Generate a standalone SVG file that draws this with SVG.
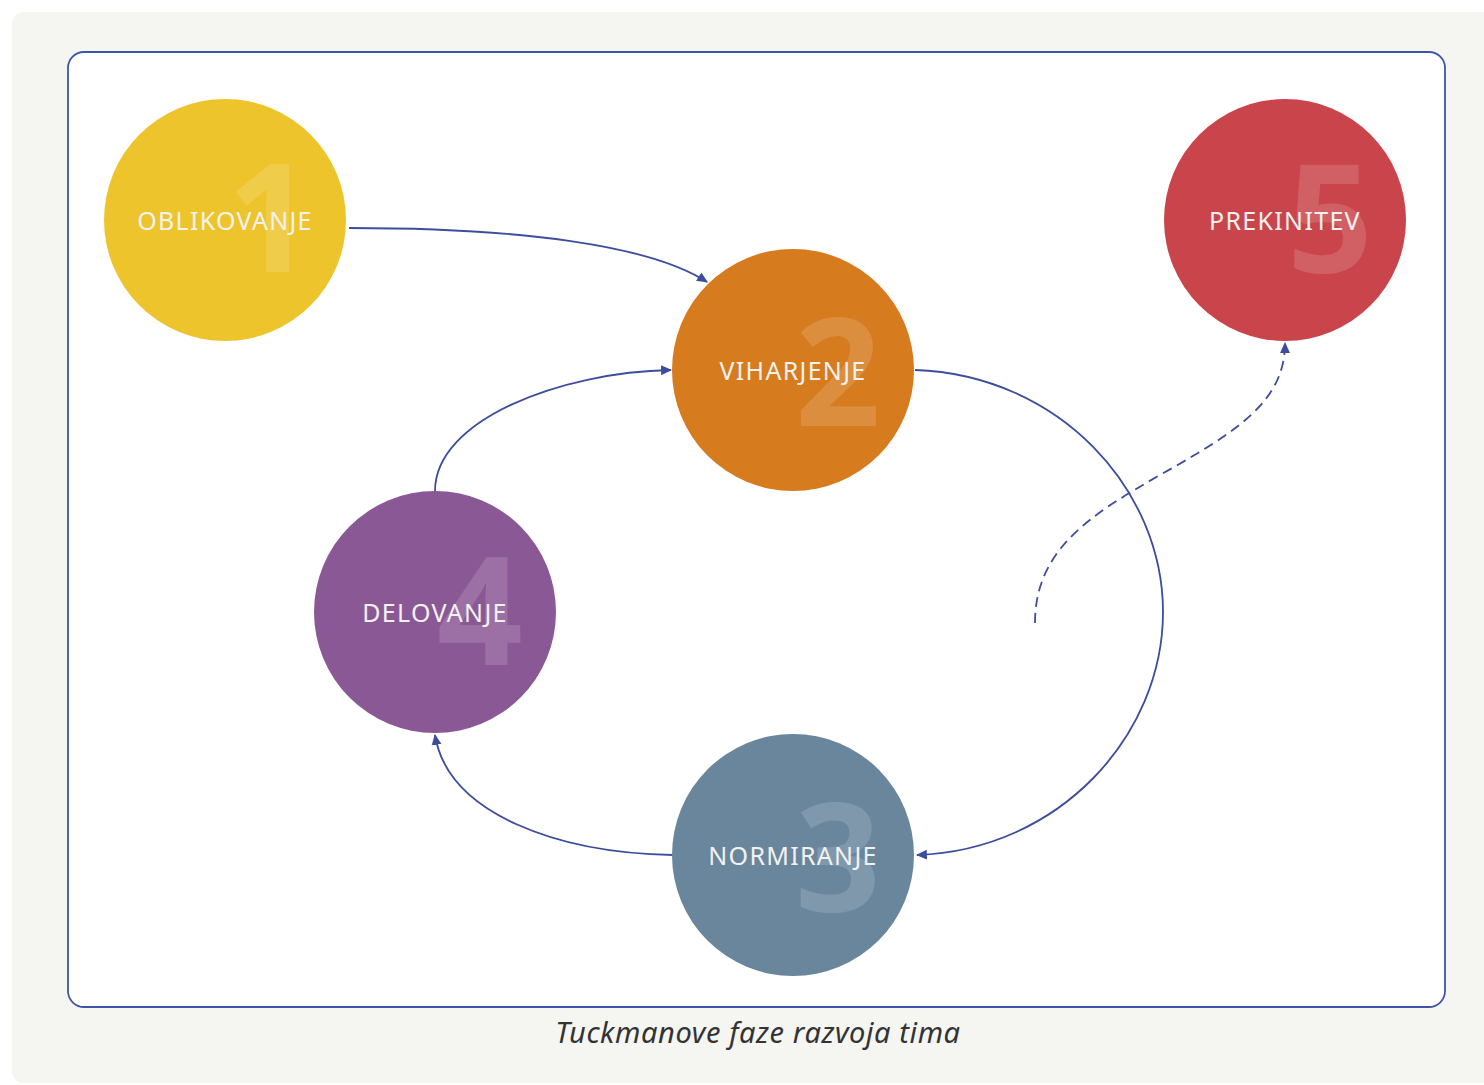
<svg xmlns="http://www.w3.org/2000/svg" width="1484" height="1085" viewBox="0 0 1484 1085">
  <defs>
    <marker id="arrow" viewBox="0 0 10 10" refX="9" refY="5" markerWidth="11" markerHeight="11" markerUnits="userSpaceOnUse" orient="auto">
      <path d="M0,0.5 L10,5 L0,9.5 Z" fill="#3d4d9e"/>
    </marker>
    <style>
      .edge { fill: none; stroke: #3d4d9e; stroke-width: 1.8; }
      .dashed { stroke-dasharray: 10 6; }
      .label { font-family: "Noto Sans", "Liberation Sans", sans-serif; font-size: 25px; fill: #f2f2f0; text-anchor: middle; letter-spacing: 1.3px; }
      .num { font-family: "Noto Sans", "Liberation Sans", sans-serif; font-size: 150px; font-weight: 700; fill: #ffffff; fill-opacity: 0.15; text-anchor: middle; }
      .caption { font-family: "Noto Sans", "Liberation Sans", sans-serif; font-size: 29px; font-style: italic; fill: #333333; text-anchor: middle; letter-spacing: 0.6px; }
    </style>
  </defs>

  <!-- page background and panel -->
  <rect x="0" y="0" width="1484" height="1085" fill="#ffffff"/>
  <rect x="12" y="12" width="1490" height="1071" rx="12" fill="#f5f5f1"/>
  <rect x="68" y="52" width="1377" height="955" rx="16" fill="#ffffff" stroke="#3f55a8" stroke-width="1.8"/>

  <!-- connectors -->
  <g id="connectors">
    <path class="edge" d="M349,228 C520,228 650,245 707,282" marker-end="url(#arrow)"/>
    <path class="edge" d="M915,370 C1060,375 1163,490 1163,612 C1163,735 1060,850 917,855" marker-end="url(#arrow)"/>
    <path class="edge" d="M673,855 C560,853 448,815 435,735" marker-end="url(#arrow)"/>
    <path class="edge" d="M435,491 C435,420 560,372 671,370" marker-end="url(#arrow)"/>
    <path class="edge dashed" d="M1035,623 C1035,550 1090,515 1160,475 C1240,430 1285,400 1285,343" marker-end="url(#arrow)"/>
  </g>

  <!-- stage nodes -->
  <g id="node-oblikovanje">
    <circle cx="225" cy="220" r="121" fill="#eec42c"/>
    <text class="num" x="270" y="272">1</text>
    <text class="label" x="225" y="230">OBLIKOVANJE</text>
  </g>
  <g id="node-viharjenje">
    <circle cx="793" cy="370" r="121" fill="#d67b1e"/>
    <text class="num" x="838" y="426">2</text>
    <text class="label" x="793" y="380">VIHARJENJE</text>
  </g>
  <g id="node-normiranje">
    <circle cx="793" cy="855" r="121" fill="#6a869d"/>
    <text class="num" x="838" y="911">3</text>
    <text class="label" x="793" y="865">NORMIRANJE</text>
  </g>
  <g id="node-delovanje">
    <circle cx="435" cy="612" r="121" fill="#8b5896"/>
    <text class="num" x="480" y="665">4</text>
    <text class="label" x="435" y="622">DELOVANJE</text>
  </g>
  <g id="node-prekinitev">
    <circle cx="1285" cy="220" r="121" fill="#c9454b"/>
    <text class="num" x="1330" y="272">5</text>
    <text class="label" x="1285" y="230">PREKINITEV</text>
  </g>

  <text class="caption" x="758" y="1043">Tuckmanove faze razvoja tima</text>
</svg>
